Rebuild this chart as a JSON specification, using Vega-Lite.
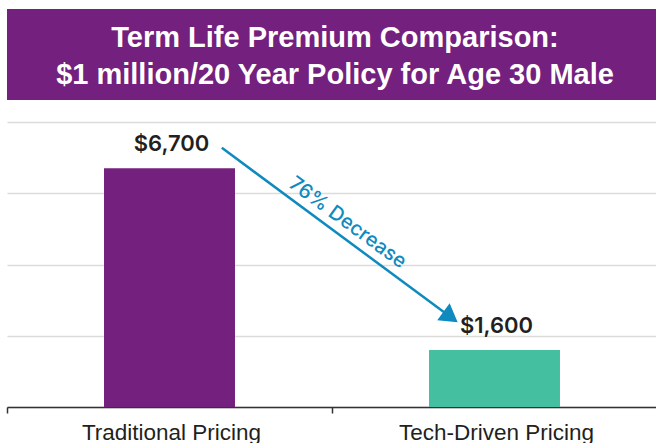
{
  "$schema": "https://vega.github.io/schema/vega-lite/v6.json",
  "padding": {"left": 6, "top": 9, "right": 0, "bottom": 0},
  "background": "white",
  "spacing": 22,
  "config": {"view": {"stroke": null}},
  "vconcat": [
    {
      "width": 650,
      "height": 91,
      "view": {"fill": "#74207e", "stroke": null},
      "data": {"values": [{"title": "Term Life Premium Comparison:\n$1 million/20 Year Policy for Age 30 Male"}]},
      "mark": {"type": "text", "lineBreak": "\n", "lineHeight": 36.6, "font": "Liberation Sans", "fontWeight": "bold", "fontSize": 29, "color": "#ffffff", "align": "center", "baseline": "middle", "dy": -16.5, "dx": 3},
      "encoding": {"text": {"field": "title", "type": "nominal"}}
    },
    {
      "width": 650,
      "height": 285,
      "data": {"values": [
        {"category": "Traditional Pricing", "premium": 6700, "label": "$6,700"},
        {"category": "Tech-Driven Pricing", "premium": 1600, "label": "$1,600"}
      ]},
      "layer": [
        {
          "mark": {"type": "bar", "width": {"band": 0.403}},
          "encoding": {
            "x": {"field": "category", "type": "nominal", "sort": null,
              "scale": {"paddingInner": 0, "paddingOuter": 0},
              "axis": {"title": null, "labelAngle": 0, "bandPosition": 0, "grid": false, "labelLimit": 0,
                "domainColor": "#333333", "domainWidth": 1.5, "tickColor": "#333333", "tickSize": 6, "tickWidth": 1.5,
                "labelFont": "Liberation Sans", "labelFontSize": 22.5, "labelColor": "#231f20", "labelPadding": 8, "labelOffset": 2}},
            "y": {"field": "premium", "type": "quantitative",
              "scale": {"domain": [0, 8000], "nice": false},
              "axis": {"values": [0, 2000, 4000, 6000, 8000], "labels": false, "ticks": false, "domain": false, "title": null,
                "grid": true, "gridColor": "#dcdcdc", "gridWidth": 1.5}},
            "color": {"field": "category", "type": "nominal",
              "scale": {"domain": ["Traditional Pricing", "Tech-Driven Pricing"], "range": ["#74207e", "#44bfa0"]}, "legend": null}
          }
        },
        {
          "mark": {"type": "text", "font": "Inter", "fontWeight": 600, "fontSize": 22, "color": "#231f20", "baseline": "alphabetic", "dy": -17, "dx": 2},
          "encoding": {
            "x": {"field": "category", "type": "nominal", "sort": null, "axis": null},
            "y": {"field": "premium", "type": "quantitative", "scale": {"domain": [0, 8000], "nice": false}},
            "text": {"field": "label", "type": "nominal"}
          }
        },
        {
          "data": {"values": [{"x1": 0.661, "y1": 7276, "x2": 1.3606, "y2": 2554}]},
          "mark": {"type": "rule", "color": "#0f8abf", "strokeWidth": 2.5},
          "encoding": {
            "x": {"field": "x1", "type": "quantitative", "scale": {"domain": [0, 2], "nice": false, "zero": false}, "axis": null},
            "y": {"field": "y1", "type": "quantitative", "scale": {"domain": [0, 8000], "nice": false}},
            "x2": {"field": "x2"},
            "y2": {"field": "y2"}
          }
        },
        {
          "data": {"values": [{"x": 1.3606, "y": 2554}]},
          "mark": {"type": "point", "shape": "M0,-1L1,0.68L-1,0.68Z", "size": 441, "angle": 126.2, "filled": true, "opacity": 1, "color": "#0f8abf"},
          "encoding": {
            "x": {"field": "x", "type": "quantitative", "scale": {"domain": [0, 2], "nice": false, "zero": false}, "axis": null},
            "y": {"field": "y", "type": "quantitative", "scale": {"domain": [0, 8000], "nice": false}}
          }
        },
        {
          "data": {"values": [{"x": 1.048, "y": 5171, "text": "76% Decrease"}]},
          "mark": {"type": "text", "font": "Inter", "fontWeight": 500, "fontSize": 20, "color": "#0f8abf", "angle": 36.2, "align": "center", "baseline": "middle"},
          "encoding": {
            "x": {"field": "x", "type": "quantitative", "scale": {"domain": [0, 2], "nice": false, "zero": false}, "axis": null},
            "y": {"field": "y", "type": "quantitative", "scale": {"domain": [0, 8000], "nice": false}},
            "text": {"field": "text", "type": "nominal"}
          }
        }
      ],
      "resolve": {"scale": {"x": "independent"}}
    }
  ]
}
